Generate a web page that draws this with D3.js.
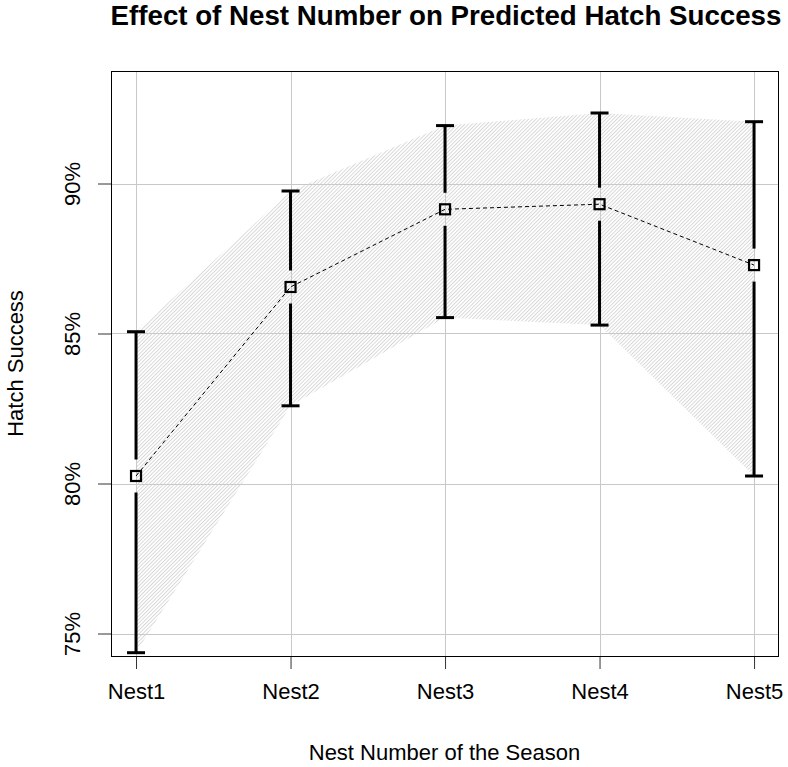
<!DOCTYPE html>
<html>
<head>
<meta charset="utf-8">
<script src="https://cdn.jsdelivr.net/npm/d3@7"></script>
<style>
  html, body { margin: 0; padding: 0; background: #fff; }
  svg { display: block; font-family: "Liberation Sans", Arial, Helvetica, sans-serif; }
</style>
</head>
<body>
<svg id="chart" width="788" height="767"></svg>
<script>
const categories = ["Nest1", "Nest2", "Nest3", "Nest4", "Nest5"];
const meanValues = [80.25, 86.55, 89.14, 89.31, 87.28];
const lowerValues = [74.36, 82.59, 85.53, 85.28, 80.25];
const upperValues = [85.06, 89.75, 91.93, 92.35, 92.06];
const yTicks = [75, 80, 85, 90];

const titleText = "Effect of Nest Number on Predicted Hatch Success";
const xTitle = "Nest Number of the Season";
const yTitle = "Hatch Success";

const W = 788, H = 767;
const box = { left: 111, right: 778, top: 71, bottom: 656 };

const svg = d3.select("#chart");

const x = d3.scaleLinear().domain([0.838, 5.155]).range([box.left, box.right]);
const y = d3.scaleLinear().domain([74.25, 93.75]).range([box.bottom, box.top]);

const data = categories.map((c, i) => ({ cat: c, i: i + 1, mean: meanValues[i], lo: lowerValues[i], hi: upperValues[i] }));

// hatch pattern
const defs = svg.append("defs");
const pat = defs.append("pattern")
  .attr("id", "hatch")
  .attr("patternUnits", "userSpaceOnUse")
  .attr("width", 2.6).attr("height", 10)
  .attr("patternTransform", "rotate(45)");
pat.append("line")
  .attr("x1", 0.5).attr("y1", 0).attr("x2", 0.5).attr("y2", 10)
  .attr("stroke", "#cfcfcf").attr("stroke-width", 0.85);

defs.append("clipPath").attr("id", "plotclip")
  .append("rect").attr("x", box.left).attr("y", box.top)
  .attr("width", box.right - box.left).attr("height", box.bottom - box.top);

// grid
const grid = svg.append("g").attr("stroke", "#c8c8c8").attr("stroke-width", 1);
grid.selectAll("line.v").data(data).join("line")
  .attr("x1", d => Math.round(x(d.i)) + 0.5).attr("x2", d => Math.round(x(d.i)) + 0.5)
  .attr("y1", box.top).attr("y2", box.bottom);
grid.selectAll("line.h").data(yTicks).join("line")
  .attr("y1", d => Math.round(y(d)) + 0.5).attr("y2", d => Math.round(y(d)) + 0.5)
  .attr("x1", box.left).attr("x2", box.right);

// band
const band = d3.area()
  .x(d => x(d.i))
  .y0(d => y(d.lo))
  .y1(d => y(d.hi));
svg.append("path")
  .datum(data)
  .attr("d", band)
  .attr("fill", "url(#hatch)")
  .attr("stroke", "none")
  .attr("clip-path", "url(#plotclip)");

// dashed line
svg.append("path")
  .datum(data)
  .attr("d", d3.line().x(d => x(d.i)).y(d => y(d.mean)))
  .attr("fill", "none")
  .attr("stroke", "#000")
  .attr("stroke-width", 1)
  .attr("stroke-dasharray", "4,3");

// error bars
const gap = 16.5;
const capW = 9;
const eb = svg.append("g").attr("stroke", "#000").attr("stroke-width", 3);
data.forEach(d => {
  const cx = x(d.i);
  eb.append("line").attr("x1", cx).attr("x2", cx)
    .attr("y1", y(d.hi)).attr("y2", y(d.mean) - gap);
  eb.append("line").attr("x1", cx).attr("x2", cx)
    .attr("y1", y(d.mean) + gap).attr("y2", y(d.lo));
  eb.append("line").attr("x1", cx - capW).attr("x2", cx + capW)
    .attr("y1", y(d.hi)).attr("y2", y(d.hi));
  eb.append("line").attr("x1", cx - capW).attr("x2", cx + capW)
    .attr("y1", y(d.lo)).attr("y2", y(d.lo));
});

// points
svg.append("g").selectAll("rect").data(data).join("rect")
  .attr("x", d => x(d.i) - 5).attr("y", d => y(d.mean) - 5)
  .attr("width", 10).attr("height", 10)
  .attr("fill", "none").attr("stroke", "#000").attr("stroke-width", 2.2);

// axes
const xAxis = d3.axisBottom(x).tickValues(data.map(d => d.i))
  .tickFormat(i => categories[i - 1]).tickSize(13).tickPadding(14);
const gx = svg.append("g").attr("transform", `translate(0,${box.bottom})`).call(xAxis);
gx.select(".domain").remove();
gx.selectAll(".tick line").attr("stroke", "#333");
gx.selectAll(".tick text").attr("font-size", 22).attr("fill", "#000")
  .attr("font-family", "Liberation Sans, Arial, sans-serif");

const yAxis = d3.axisLeft(y).tickValues(yTicks).tickFormat(d => d + "%").tickSize(13).tickPadding(0);
const gy = svg.append("g").attr("transform", `translate(${box.left},0)`).call(yAxis);
gy.select(".domain").remove();
gy.selectAll(".tick line").attr("stroke", "#333");
gy.selectAll(".tick text")
  .attr("font-size", 22).attr("fill", "#000")
  .attr("font-family", "Liberation Sans, Arial, sans-serif")
  .attr("x", null).attr("dy", null)
  .attr("text-anchor", "middle")
  .attr("transform", "translate(-31,0) rotate(-90)");

// box
svg.append("rect")
  .attr("x", box.left + 0.5).attr("y", box.top + 0.5)
  .attr("width", box.right - box.left).attr("height", box.bottom - box.top)
  .attr("fill", "none").attr("stroke", "#000").attr("stroke-width", 1);

// titles
svg.append("text")
  .attr("x", (box.left + box.right) / 2 + 1.5).attr("y", 25)
  .attr("text-anchor", "middle")
  .attr("font-size", 27.7).attr("font-weight", "bold")
  .text(titleText);

svg.append("text")
  .attr("x", (box.left + box.right) / 2).attr("y", 760)
  .attr("text-anchor", "middle")
  .attr("font-size", 22)
  .text(xTitle);

svg.append("text")
  .attr("transform", `translate(23,${(box.top + box.bottom) / 2}) rotate(-90)`)
  .attr("text-anchor", "middle")
  .attr("font-size", 22)
  .text(yTitle);
</script>
</body>
</html>
